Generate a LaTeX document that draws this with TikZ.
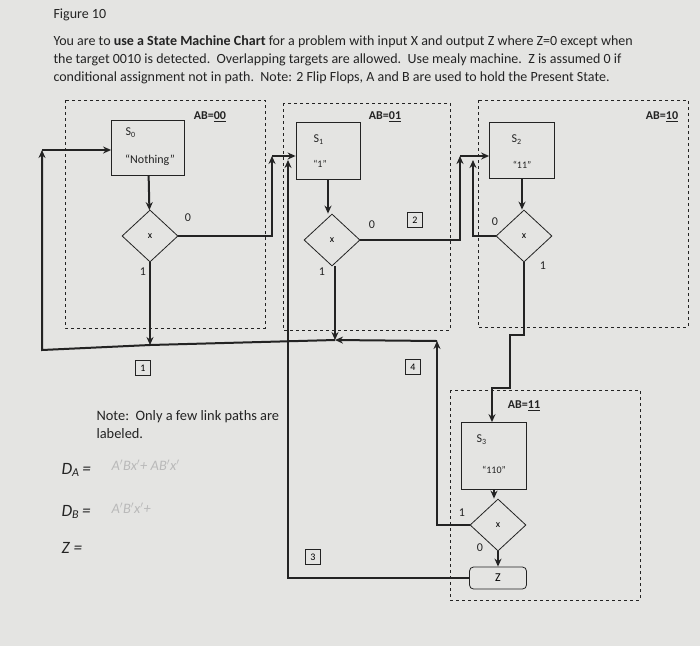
\documentclass[tikz,border=0pt]{standalone}
\usepackage{fontspec}
\setmainfont{Carlito}
\usetikzlibrary{shapes.geometric,arrows.meta}
\definecolor{paper}{RGB}{228,228,226}
\definecolor{ink}{RGB}{35,35,35}
\begin{document}
\begin{tikzpicture}[x=1pt,y=-1pt,
  st/.style={draw=ink,fill=paper,thick,minimum width=70pt,minimum height=55pt},
  dia/.style={draw=ink,fill=paper,thick,diamond,minimum width=56pt,minimum height=52pt,inner sep=0pt,font=\normalsize},
  con/.style={draw=ink,line width=2pt},
  arr/.style={con,-{Stealth[length=8pt,width=7pt]}},
  grp/.style={draw=ink,dashed,thick},
  lbl/.style={font=\large,text=ink},
  num/.style={draw=ink,thick,minimum size=15pt,inner sep=1pt,font=\normalsize},
  hand/.style={font=\LARGE\itshape,text=ink},
  faint/.style={font=\Large\itshape,text=gray!55},
  para/.style={anchor=west,font=\fontsize{14}{16}\selectfont,text=ink}]
\fill[paper] (0,0) rectangle (700,646);
\useasboundingbox (0,0) rectangle (700,646);
\node[para] (fig) at (50,15) {Figure 10};
\node[para] (p1) at (50,42) {You are to \textbf{use a State Machine Chart} for a problem with input X and output Z where Z=0 except when};
\node[para] (p2) at (50,60) {the target 0010 is detected.\ \ Overlapping targets are allowed.\ \ Use mealy machine.\ \ Z is assumed 0 if};
\node[para] (p3) at (50,78) {conditional assignment not in path.\ \ Note: 2 Flip Flops, A and B are used to hold the Present State.};
% group boxes
\draw[grp] (65,100) rectangle (265,328);
\draw[grp] (283,103) rectangle (450,330);
\draw[grp] (478,100) rectangle (688,327);
\draw[grp] (450,390) rectangle (640,600);
\node[lbl,font=\large\bfseries] (g0) at (210,117) {AB=\underline{00}};
\node[lbl,font=\large\bfseries] (g1) at (385,117) {AB=\underline{01}};
\node[lbl,font=\large\bfseries] (g2) at (662,117) {AB=\underline{10}};
\node[lbl,font=\large\bfseries] (g3) at (524,406) {AB=\underline{11}};
% states
\node[st,minimum width=73pt] (s0) at (148,148) {};
\node[lbl,anchor=west] at (122,133) {S\textsubscript{0}};
\node[lbl] at (150,160) {``Nothing''};
\node[st,minimum width=64pt,minimum height=57pt] (s1) at (328,151) {};
\node[lbl,anchor=west] at (310,140) {S\textsubscript{1}};
\node[lbl,font=\normalsize] at (320,164) {``1''};
\node[st,minimum width=65pt,minimum height=56pt] (s2) at (522,150) {};
\node[lbl,anchor=west] at (508,140) {S\textsubscript{2}};
\node[lbl,font=\normalsize] at (522,165) {``11''};
\node[st,minimum width=65pt,minimum height=67pt] (s3) at (494,456) {};
\node[lbl,anchor=west] at (473,440) {S\textsubscript{3}};
\node[lbl,font=\normalsize] at (494,470) {``110''};
\node[dia] (d0) at (150,236) {x};
\node[dia] (d1) at (332,240) {x};
\node[dia] (d2) at (524,236) {x};
\node[dia] (d3) at (498,525) {x};
\node[draw=ink,thick,fill=paper,rounded corners=4pt,minimum width=57pt,minimum height=22pt,font=\large] (z) at (498,578) {Z};
% coordinates
\coordinate (b0) at (150,345);
\coordinate (b1) at (335,340);
\coordinate (lc) at (42,350);
% connectors
\draw[arr] (s0) -- (d0);
\draw[arr] (s1) -- (s1|-d1.north);
\draw[arr] (s2) -- (s2|-d2.north);
\draw[arr] (s3) -- (s3|-d3.north);
\draw[arr] (d3) -- (z);
\draw[arr] (d0.east) -- (272,236) -- (272,156);
\draw[arr] (272,156) -- (s1.west|-0,156);
\draw[arr] (d0.south) -- (b0);
\draw[arr] (d1.south-|b1) -- (b1);
\draw[arr] (b1) -- (b0) -- (lc) -- (42,150);
\draw[arr] (42,150) -- (s0.west|-0,150);
\draw[arr] (z.west) -- (288,578) -- (288,160);
\draw[arr] (d1.east) -- (460,240) -- (460,156);
\draw[arr] (460,156) -- (s2.west|-0,156);
\draw[arr] (d2.west) -- (473,236) -- (473,160);
\draw[arr] (d2.south) -- (524,335) -- (510,335) -- (510,388) -- (492,388) -- (s3.north-|492,0);
\draw[arr] (d3.west) -- (437,525) -- (437,341);
\draw[arr] (437,341) -- (b1);
% labels
\node[lbl] at (188,218) {0};
\node[lbl] at (143,272) {1};
\node[lbl] at (372,225) {0};
\node[lbl] at (322,272) {1};
\node[lbl] at (495,222) {0};
\node[lbl] at (543,266) {1};
\node[lbl] at (462,513) {1};
\node[lbl] at (480,548) {0};
\node[num] (n1) at (143,368) {1};
\node[num] (n2) at (415,220) {2};
\node[num] (n4) at (413,367) {4};
\node[num] (n3) at (313,557) {3};
% note
\node[anchor=west,lbl,font=\Large,align=left] (note) at (93,425) {Note:\ \ Only a few link paths are\\labeled.};
\node[anchor=west,hand] (da) at (58,470) {D\textsubscript{A}\,=};
\node[anchor=west,faint] at (108,465) {A$'$Bx$'$+ AB$'$x$'$};
\node[anchor=west,hand] (db) at (58,512) {D\textsubscript{B}\,=};
\node[anchor=west,faint] at (108,508) {A$'$B$'$x$'$+};
\node[anchor=west,hand] (zz) at (58,548) {Z =};
\end{tikzpicture}
\end{document}
